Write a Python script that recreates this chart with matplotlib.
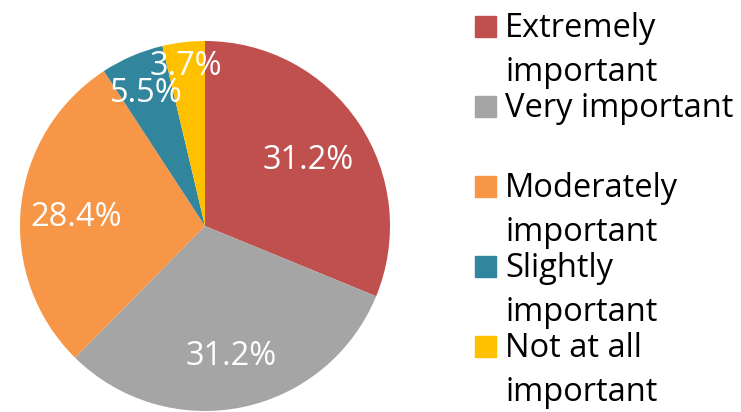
import numpy as np
import matplotlib.pyplot as plt

labels = ["Extremely\nimportant", "Very important", "Moderately\nimportant",
          "Slightly\nimportant", "Not at all\nimportant"]
values = [31.2, 31.2, 28.4, 5.5, 3.7]
colors = ["#C0504D", "#A5A5A5", "#F79646", "#31859C", "#FFC000"]
# distance of each percent label from the centre (fraction of radius)
label_dist = [0.67, 0.70, 0.70, 0.80, 0.89]

plt.rcParams['font.family'] = ['Open Sans', 'DejaVu Sans']

W, H = 741, 412
fig = plt.figure(figsize=(W/100, H/100), dpi=100)
ax = fig.add_axes([20/W, 1/H, 370/W, 370/H])

wedges, _ = ax.pie(values, colors=colors, startangle=90, counterclock=False,
                   wedgeprops=dict(linewidth=0))
ax.set_xlim(-1, 1)
ax.set_ylim(-1, 1)
ax.set_aspect('equal')

for w, v, d in zip(wedges, values, label_dist):
    ang = np.deg2rad((w.theta1 + w.theta2) / 2)
    ax.text(d * np.cos(ang), d * np.sin(ang), f"{v}%", color="white",
            fontsize=23.5, ha="center", va="center_baseline")

# legend: one 80 px slot per entry, square bottom on the first baseline
for i, (lab, c) in enumerate(zip(labels, colors)):
    base = 37 + 80 * i
    fig.patches.append(plt.Rectangle((475/W, 1 - base/H), 21/W, 21/H,
                                     transform=fig.transFigure, color=c))
    for j, line in enumerate(lab.split("\n")):
        fig.text(505/W, 1 - (base + 44*j)/H, line, fontsize=23.5,
                 va="baseline", ha="left", color="black")

fig.savefig("out.png", dpi=100)
